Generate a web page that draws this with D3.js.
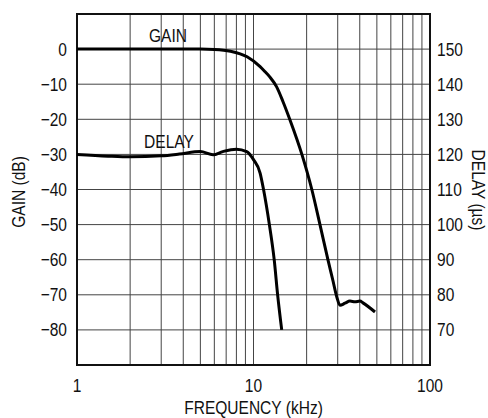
<!DOCTYPE html>
<html>
<head>
<meta charset="utf-8">
<script src="https://cdn.jsdelivr.net/npm/d3@7"></script>
<style>
  body { margin: 0; background: #fff; }
  text { font-family: "Liberation Sans", Arial, sans-serif; fill: #111; }
</style>
</head>
<body>
<svg id="chart" width="488" height="418"></svg>
<script>
// данные
const freqTicks = [1, 10, 100];
const gainTicks = [0, -10, -20, -30, -40, -50, -60, -70, -80];
const delayTicks = [150, 140, 130, 120, 110, 100, 90, 80, 70];

// усиление (dB) от частоты (kHz)
const gainFreq = [1, 3, 5, 6, 7.4, 9.2, 10.9, 11.6, 12.4, 13.5, 14.7, 16.1, 18.8, 21.4, 23.8, 26.4, 28.2, 29.6, 30.9, 33, 35.2, 37.6, 40.1, 41.7, 48.8];
const gainDb   = [0, 0, 0, -0.1, -0.6, -2.2, -5, -6.4, -8, -10.7, -15, -20.2, -30, -40, -50, -60, -66, -70.5, -73, -72.4, -71.8, -72, -71.8, -72.3, -74.9];

// задержка (µs) от частоты (kHz)
const delayFreq = [1, 1.5, 2, 3, 3.8, 5, 5.9, 6.7, 8, 9.15, 10, 10.9, 11.4, 12.3, 13.1, 13.7, 14.45];
const delayUs   = [120, 119.5, 119.3, 119.6, 120.1, 120.8, 119.9, 120.8, 121.5, 120.8, 118.5, 114.7, 110, 100, 90, 80, 70];

const svg = d3.select("#chart");
const mLeft = 77, mRight = 430, mTop = 14, mBottom = 365;
const fs = "18.5px", squeeze = 0.84; // узкий шрифт как в оригинале

const x = d3.scaleLog().domain([1, 100]).range([mLeft, mRight]);
const yGain = d3.scaleLinear().domain([-90, 10]).range([mBottom, mTop]);
const yDelay = d3.scaleLinear().domain([60, 160]).range([mBottom, mTop]);

// текст, сжатый по горизонтали
function label(g, tx, ty, str, anchor, rot) {
  return g.append("text")
    .attr("transform", `translate(${tx},${ty})` + (rot ? ` rotate(${rot})` : "") + ` scale(${squeeze},1)`)
    .attr("text-anchor", anchor)
    .attr("font-size", fs)
    .text(str);
}

// сетка
const minor = [];
[1, 10].forEach(d => { for (let k = 2; k <= 9; k++) minor.push(d * k); });
minor.push(10);
svg.append("g").selectAll("line").data(minor).join("line")
  .attr("x1", d => x(d)).attr("x2", d => x(d))
  .attr("y1", mTop).attr("y2", mBottom)
  .attr("stroke", "#444").attr("stroke-width", 1);

svg.append("g").selectAll("line").data(gainTicks).join("line")
  .attr("x1", mLeft).attr("x2", mRight)
  .attr("y1", d => yGain(d)).attr("y2", d => yGain(d))
  .attr("stroke", "#444").attr("stroke-width", 1);

// рамка
svg.append("rect")
  .attr("x", mLeft).attr("y", mTop)
  .attr("width", mRight - mLeft).attr("height", mBottom - mTop)
  .attr("fill", "none").attr("stroke", "#111").attr("stroke-width", 2);

// подписи осей
gainTicks.forEach(d => {
  label(svg, mLeft - 10, yGain(d) + 6.5, d < 0 ? "\u2212" + Math.abs(d) : String(d), "end");
});
delayTicks.forEach(d => {
  label(svg, mRight + 7, yDelay(d) + 6.5, String(d), "start");
});
freqTicks.forEach(d => {
  label(svg, x(d), mBottom + 27, String(d), "middle");
});

label(svg, (mLeft + mRight) / 2, 414, "FREQUENCY (kHz)", "middle");
label(svg, 25, 192, "GAIN (dB)", "middle", -90);
label(svg, 472, 190, "DELAY (\u00b5s)", "middle", 90);

// кривые
const gainLine = d3.line()
  .x((d, i) => x(gainFreq[i]))
  .y(d => yGain(d))
  .curve(d3.curveMonotoneX);

const delayLine = d3.line()
  .x((d, i) => x(delayFreq[i]))
  .y(d => yDelay(d))
  .curve(d3.curveMonotoneX);

svg.append("path")
  .attr("d", gainLine(gainDb))
  .attr("fill", "none").attr("stroke", "#000").attr("stroke-width", 3);

svg.append("path")
  .attr("d", delayLine(delayUs))
  .attr("fill", "none").attr("stroke", "#000").attr("stroke-width", 3);

label(svg, 168, 42, "GAIN", "middle");
label(svg, 169, 148, "DELAY", "middle");
</script>
</body>
</html>
